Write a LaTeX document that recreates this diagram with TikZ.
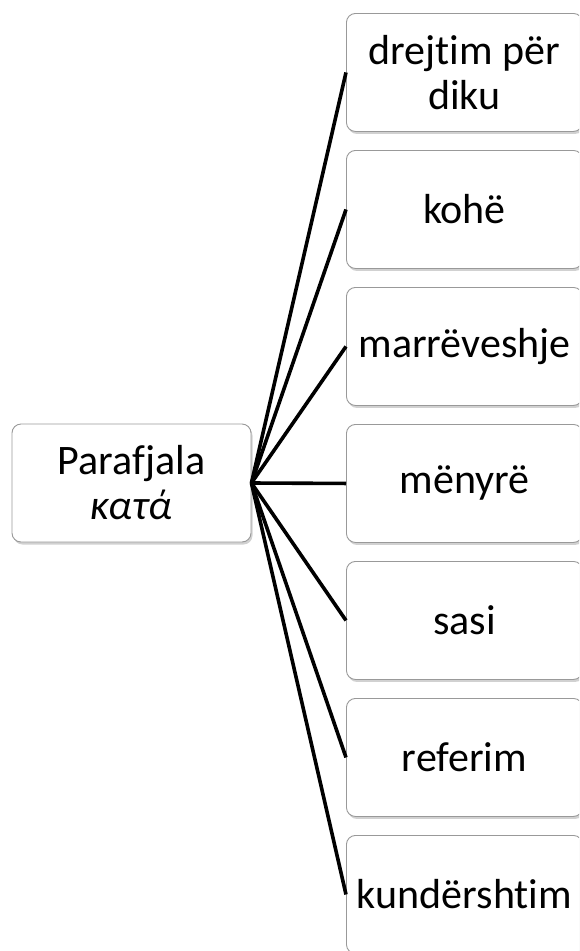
\documentclass[tikz,border=0pt]{standalone}
\usepackage{fontspec}
\setmainfont{Carlito}[Ligatures=NoCommon]
\usetikzlibrary{shadows}
\begin{document}
\begin{tikzpicture}[x=1pt,y=-1pt,
  box/.style={draw=black!40, line width=0.9pt, fill=white, rounded corners=9pt,
    drop shadow={shadow xshift=1.5pt, shadow yshift=-2.5pt, opacity=0.3, fill=black!60},
    align=center, inner sep=0pt,
    font=\fontsize{42}{45}\selectfont},
  leaf/.style={box, minimum width=236pt, minimum height=118pt, anchor=north west},
  link/.style={line width=3.6pt, black}]
\useasboundingbox (0,0) rectangle (579,951);
\begin{scope}
\clip (0,0) rectangle (579,951);
\node[box, minimum width=239pt, minimum height=118pt] (root) at (131.5,483) {Parafjala\\\textit{κατά}};
\node[leaf] (a) at (346,13)  {drejtim për\\diku};
\node[leaf] (b) at (346,150) {kohë};
\node[leaf] (c) at (346,287) {marrëveshje};
\node[leaf] (d) at (346,424) {mënyrë};
\node[leaf] (e) at (346,561) {sasi};
\node[leaf] (f) at (346,698) {referim};
\node[leaf] (g) at (346,835) {kundërshtim};
\foreach \n in {a,b,c,d,e,f,g}
  \draw[link] (root.east) -- (\n.west);
\end{scope}
\end{tikzpicture}
\end{document}
